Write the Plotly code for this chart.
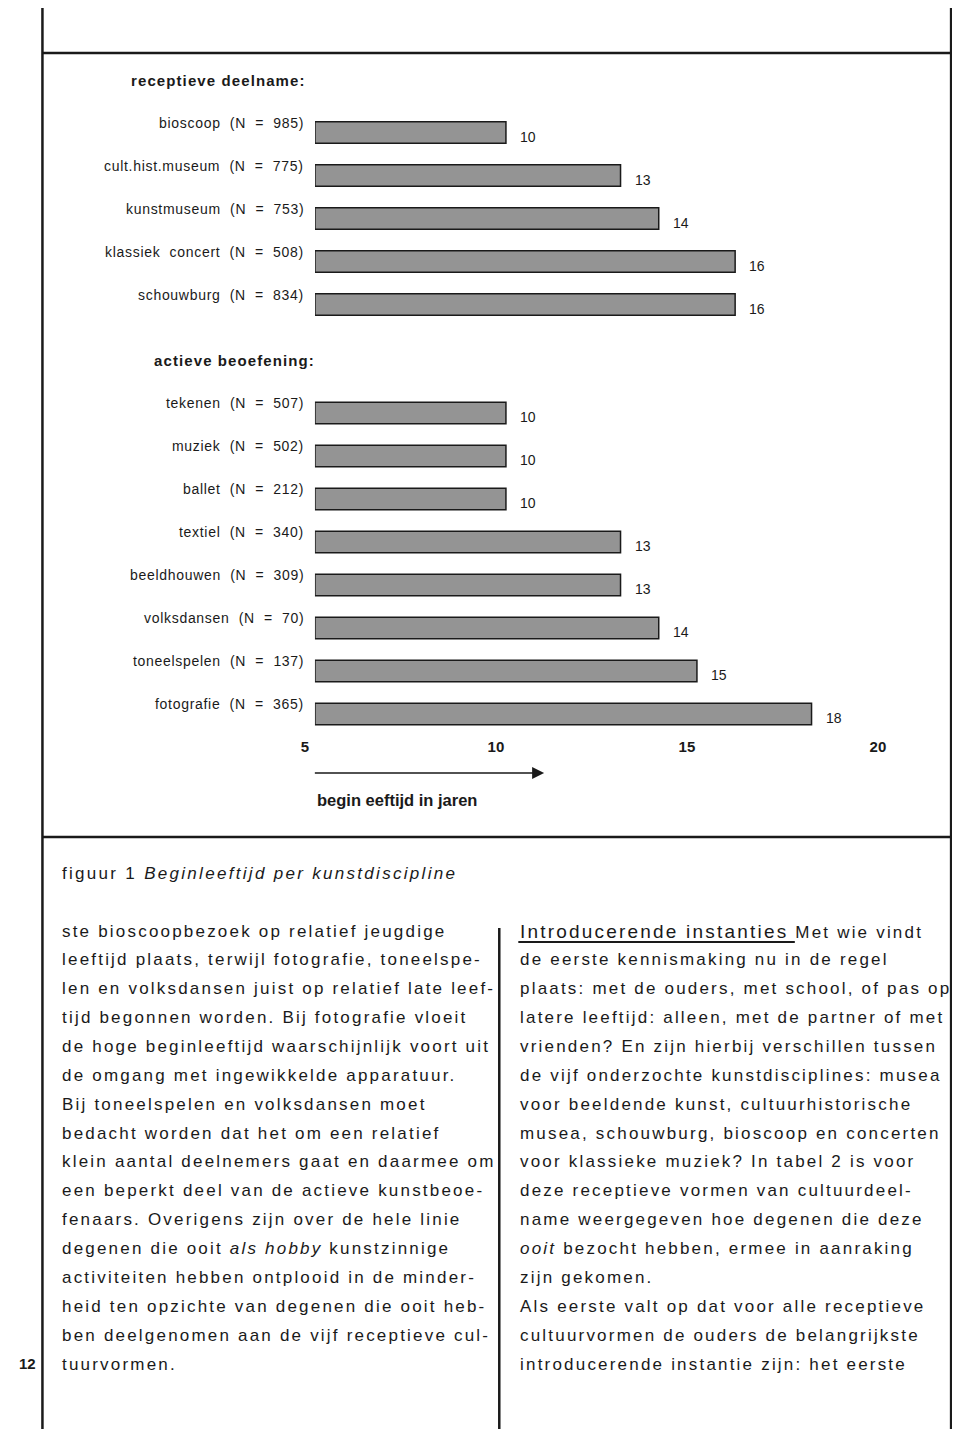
import plotly.graph_objects as go

# where the figure lands in the captured picture: x_pic = SX * x_fig + X0,
# y_pic = y_fig + OY (body margin)
SX, X0, OY = 0.9836, 23.6, 8
W, H = 960, 1421

# data
receptief_labels = ["bioscoop  (N  =  985)", "cult.hist.museum  (N  =  775)",
                    "kunstmuseum  (N  =  753)", "klassiek  concert  (N  =  508)",
                    "schouwburg  (N  =  834)"]
receptief_values = [10, 13, 14, 16, 16]

actief_labels = ["tekenen  (N  =  507)", "muziek  (N  =  502)", "ballet  (N  =  212)",
                 "textiel  (N  =  340)", "beeldhouwen  (N  =  309)",
                 "volksdansen  (N  =  70)", "toneelspelen  (N  =  137)",
                 "fotografie  (N  =  365)"]
actief_values = [10, 10, 10, 13, 13, 14, 15, 18]

x_ticks = [5, 10, 15, 20]

left_lines = [
    "ste bioscoopbezoek op relatief jeugdige",
    "leeftijd plaats, terwijl fotografie, toneelspe-",
    "len en volksdansen juist op relatief late leef-",
    "tijd begonnen worden. Bij fotografie vloeit",
    "de hoge beginleeftijd waarschijnlijk voort uit",
    "de omgang met ingewikkelde apparatuur.",
    "Bij toneelspelen en volksdansen moet",
    "bedacht worden dat het om een relatief",
    "klein aantal deelnemers gaat en daarmee om",
    "een beperkt deel van de actieve kunstbeoe-",
    "fenaars. Overigens zijn over de hele linie",
    "degenen die ooit <i>als hobby</i> kunstzinnige",
    "activiteiten hebben ontplooid in de minder-",
    "heid ten opzichte van degenen die ooit heb-",
    "ben deelgenomen aan de vijf receptieve cul-",
    "tuurvormen.",
]
right_lines = [
    '<span style="font-size:19px">Introducerende instanties</span> Met wie vindt',
    "de eerste kennismaking nu in de regel",
    "plaats: met de ouders, met school, of pas op",
    "latere leeftijd: alleen, met de partner of met",
    "vrienden? En zijn hierbij verschillen tussen",
    "de vijf onderzochte kunstdisciplines: musea",
    "voor beeldende kunst, cultuurhistorische",
    "musea, schouwburg, bioscoop en concerten",
    "voor klassieke muziek? In tabel 2 is voor",
    "deze receptieve vormen van cultuurdeel-",
    "name weergegeven hoe degenen die deze",
    "<i>ooit</i> bezocht hebben, ermee in aanraking",
    "zijn gekomen.",
    "Als eerste valt op dat voor alle receptieve",
    "cultuurvormen de ouders de belangrijkste",
    "introducerende instantie zijn: het eerste",
]

FONT = "Liberation Sans, Arial, sans-serif"
INK = "#1a1a1a"


def fx(x):
    return max((x - X0) / SX, 0)


def px(x):
    return fx(x) / W


def py(y):
    return 1 - (y - OY) / H


def spaced(text, ls):
    return f'<span style="letter-spacing:{ls}px">{text}</span>'


def page_text(x, y, text, size, anchor="left"):
    return dict(x=px(x), y=py(y), xref="paper", yref="paper", xanchor=anchor,
                yanchor="middle", text=text, showarrow=False,
                font=dict(family=FONT, size=size, color=INK))


bar_style = dict(color="#949494", line=dict(color=INK, width=1.5))

fig = go.Figure()
fig.add_trace(go.Bar(y=receptief_labels, x=[v - 5 for v in receptief_values], base=5,
                     orientation="h", width=0.5, marker=bar_style,
                     xaxis="x", yaxis="y", hoverinfo="skip"))
fig.add_trace(go.Bar(y=actief_labels, x=[v - 5 for v in actief_values], base=5,
                     orientation="h", width=0.5, marker=bar_style,
                     xaxis="x", yaxis="y2", hoverinfo="skip"))

annotations = []
for labels, values, yref in [(receptief_labels, receptief_values, "y"),
                             (actief_labels, actief_values, "y2")]:
    for lab, val in zip(labels, values):
        annotations.append(dict(x=px(307), xref="paper", y=lab, yref=yref,
                                text=spaced(lab, 0.7), xanchor="right", yanchor="middle",
                                yshift=10, showarrow=False,
                                font=dict(family=FONT, size=14, color=INK)))
        annotations.append(dict(x=val, xref="x", y=lab, yref=yref, text=str(val),
                                xanchor="left", yanchor="middle", xshift=12, yshift=-4,
                                showarrow=False,
                                font=dict(family=FONT, size=14, color=INK)))

# headings
annotations.append(page_text(130, 80, "<b>" + spaced("receptieve deelname:", 1.1) + "</b>", 15))
annotations.append(page_text(153, 360, "<b>" + spaced("actieve beoefening:", 1.1) + "</b>", 15))

# axis arrow + title
annotations.append(dict(x=11.0, xref="x", y=py(773), yref="paper", ax=-227 / SX, ay=0,
                        axref="pixel", ayref="pixel", text="", showarrow=True,
                        arrowhead=2, arrowsize=1.6, arrowwidth=1.5, arrowcolor=INK))
annotations.append(page_text(316, 800, "<b>begin eeftijd in jaren</b>", 16.5))

# caption
annotations.append(page_text(62, 873, spaced("figuur 1 <i>Beginleeftijd per kunstdiscipline</i>", 2.3), 17))

# body text columns
for i, line in enumerate(left_lines):
    annotations.append(page_text(62, 931 + i * 28.87, spaced(line, 2.2), 17))
for i, line in enumerate(right_lines):
    annotations.append(page_text(519, 931 + i * 28.87, spaced(line, 2.2), 17))

# page number
annotations.append(page_text(40, 1363, "<b>12</b>", 15, anchor="right"))

line = dict(color=INK, width=2.5)


def seg(x0, y0, x1, y1, style=line):
    return dict(type="line", xref="paper", yref="paper", x0=px(x0), x1=px(x1),
                y0=py(y0), y1=py(y1), line=style)


shapes = [
    seg(44, 0, 44, 1429),
    seg(951, 0, 951, 1429),
    seg(44, 53, 951, 53),
    seg(44, 837, 960, 837),
    seg(500, 928, 500, 1429),
    seg(519, 942, 795, 942, dict(color=INK, width=2)),
]

fig.update_layout(
    width=W, height=H,
    margin=dict(l=0, r=0, t=0, b=0),
    paper_bgcolor="white", plot_bgcolor="white",
    showlegend=False,
    xaxis=dict(domain=[px(316), px(316 + 15 * 38.13)], range=[5, 20], anchor="y2",
               tickvals=x_ticks, ticktext=[f"<b>{t}</b>" for t in x_ticks],
               ticks="", showgrid=False, zeroline=False, showline=False,
               ticklabelshift=-10, tickfont=dict(family=FONT, size=15, color=INK)),
    yaxis=dict(domain=[py(326), py(111)], range=[4.5, -0.5], visible=False,
               categoryorder="array", categoryarray=receptief_labels),
    yaxis2=dict(domain=[py(735.5), py(391.5)], range=[7.5, -0.5], visible=False,
                categoryorder="array", categoryarray=actief_labels),
    annotations=annotations,
    shapes=shapes,
)

fig.write_html("out.html")
